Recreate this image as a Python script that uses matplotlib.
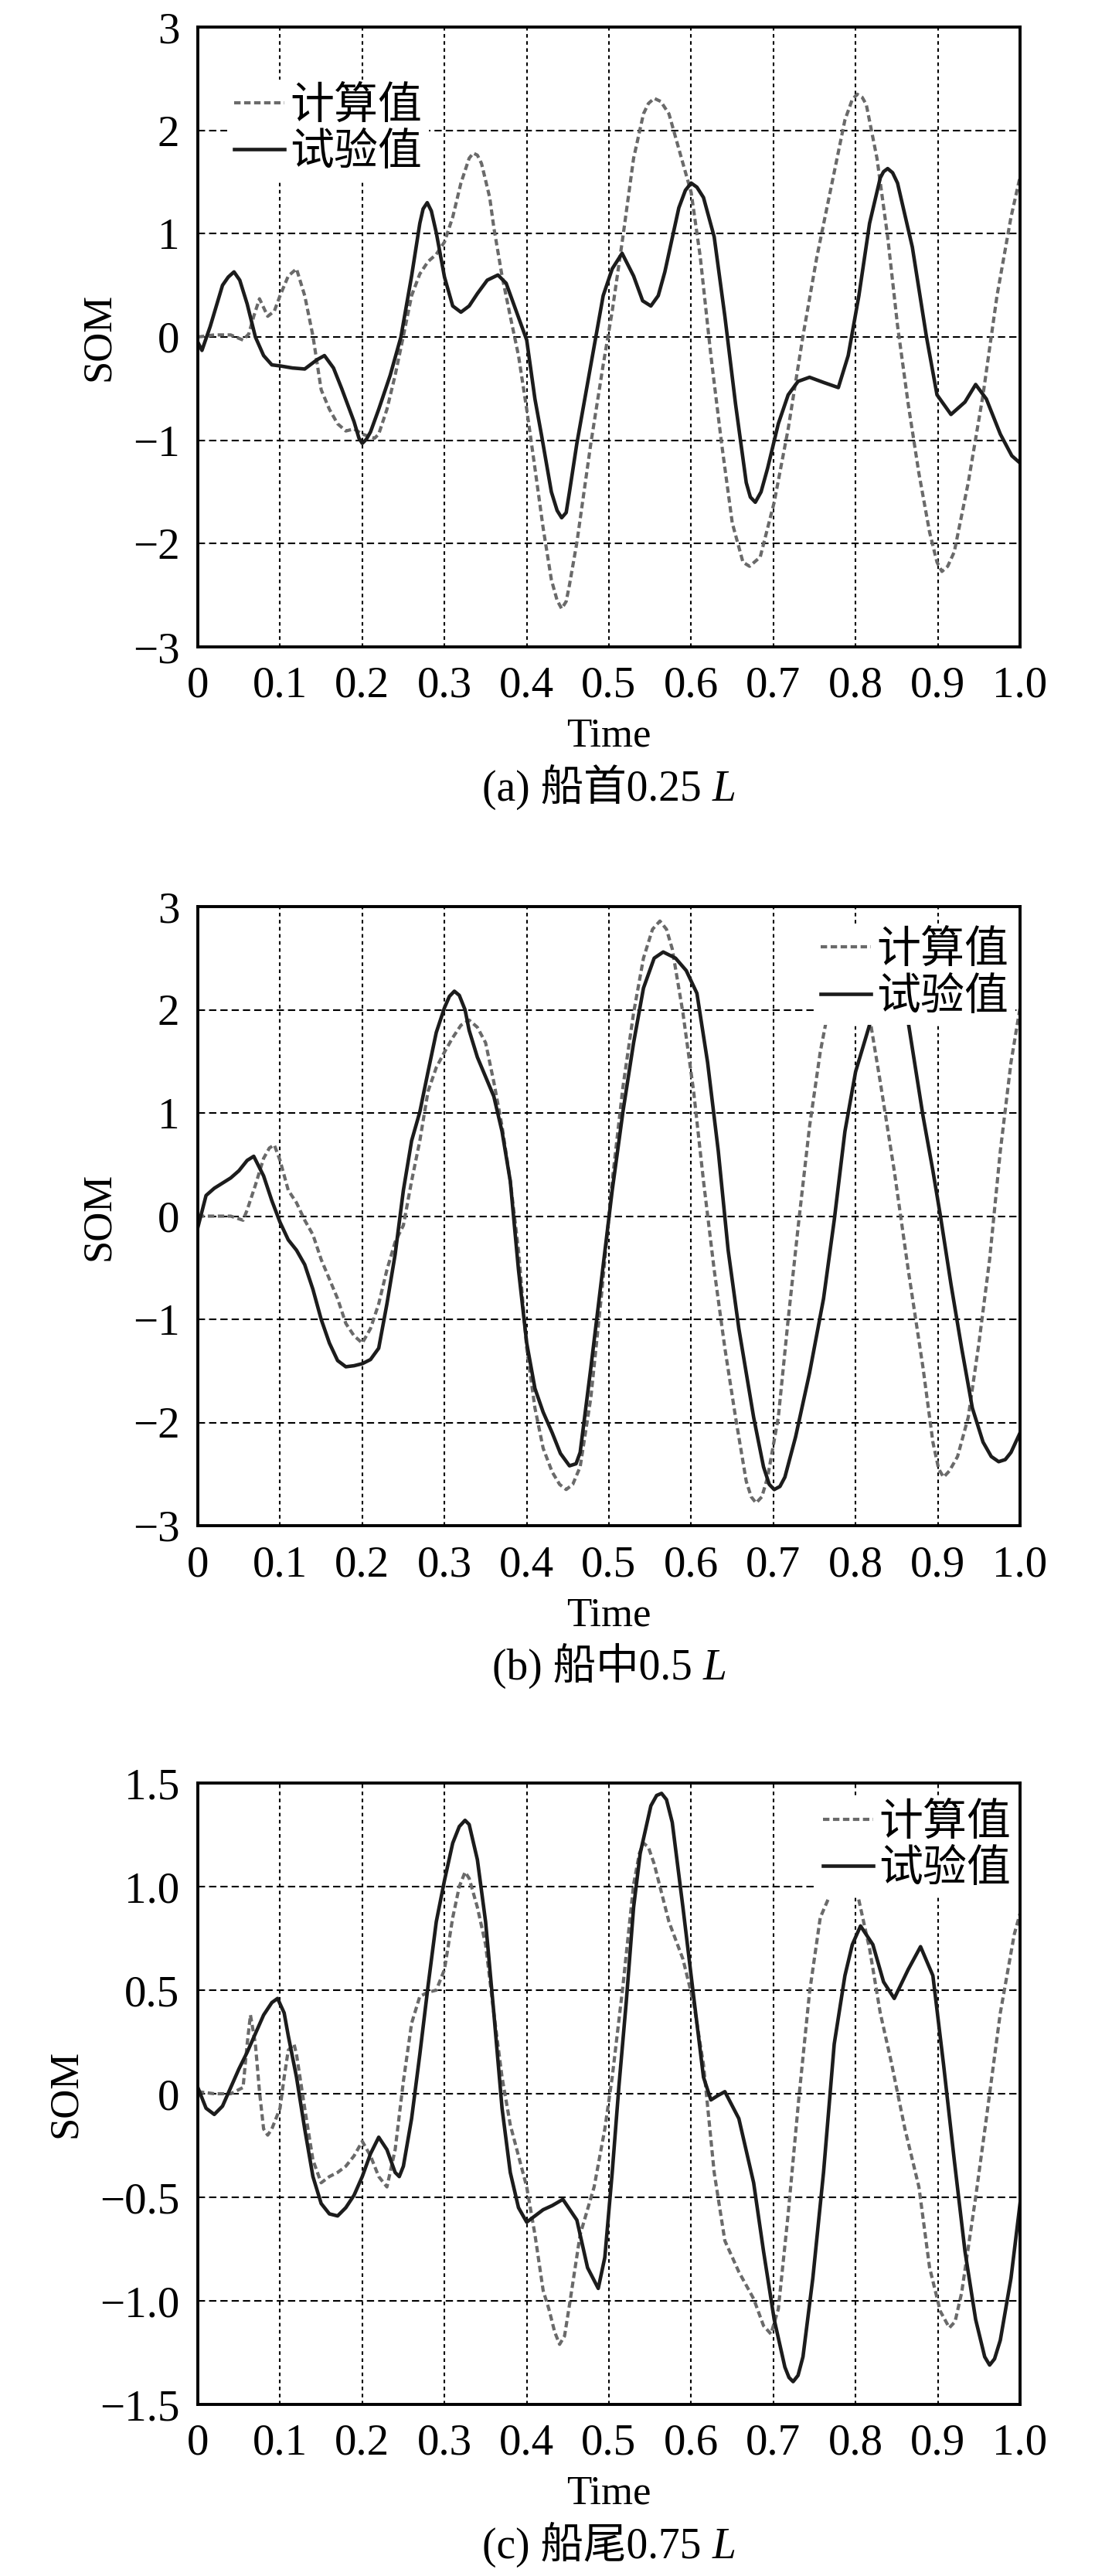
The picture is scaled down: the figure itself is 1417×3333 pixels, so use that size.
import matplotlib
matplotlib.use('Agg')
import matplotlib.pyplot as plt

plt.rcParams['font.family'] = ['Liberation Serif', 'Noto Sans CJK SC']
plt.rcParams['axes.unicode_minus'] = True

# (a) 船首0.25L
a_calc_t = [0, 0.02, 0.04, 0.055, 0.062, 0.068, 0.075, 0.085, 0.093, 0.1, 0.11, 0.12, 0.13, 0.14,
            0.15, 0.16, 0.17, 0.18, 0.19, 0.2, 0.215, 0.22, 0.23, 0.24, 0.25, 0.26, 0.27, 0.28,
            0.29, 0.3, 0.31, 0.32, 0.33, 0.335, 0.34, 0.345, 0.355, 0.36, 0.37, 0.38, 0.39, 0.4,
            0.41, 0.42, 0.43, 0.437, 0.4425, 0.448, 0.452, 0.461, 0.478, 0.493, 0.504, 0.517,
            0.53, 0.542, 0.548, 0.555, 0.563, 0.573, 0.59, 0.6, 0.611, 0.624, 0.637, 0.65, 0.663,
            0.671, 0.684, 0.701, 0.718, 0.736, 0.753, 0.77, 0.787, 0.796, 0.802, 0.808, 0.813,
            0.826, 0.839, 0.851, 0.864, 0.877, 0.89, 0.899, 0.905, 0.912, 0.92, 0.937, 0.955,
            0.972, 0.989, 1.0]
a_calc_v = [0.0, 0.02, 0.02, -0.03, 0.03, 0.2, 0.37, 0.2, 0.25, 0.4, 0.59, 0.66, 0.4, 0.01,
            -0.51, -0.7, -0.84, -0.91, -0.89, -0.94, -0.98, -0.94, -0.7, -0.37, 0.01, 0.4, 0.61, 0.73,
            0.8, 0.92, 1.16, 1.49, 1.73, 1.78, 1.76, 1.68, 1.35, 1.06, 0.59, 0.2, -0.18, -0.7,
            -1.27, -1.85, -2.35, -2.55, -2.63, -2.56, -2.4, -1.99, -1.03, -0.27, 0.25, 0.97,
            1.73, 2.16, 2.26, 2.31, 2.28, 2.16, 1.68, 1.4, 0.78, -0.18, -1.03, -1.8, -2.18,
            -2.22, -2.13, -1.6, -0.89, 0.01, 0.78, 1.44, 2.1, 2.3, 2.35, 2.32, 2.25,
            1.73, 0.97, 0.11, -0.65, -1.32, -1.89, -2.18, -2.27, -2.22, -2.08, -1.41, -0.56,
            0.4, 1.16, 1.55]
a_exp_t = [0, 0.005, 0.015, 0.03, 0.037, 0.044, 0.051, 0.06, 0.07, 0.08, 0.09, 0.1, 0.115, 0.13,
           0.145, 0.154, 0.165, 0.175, 0.19, 0.196, 0.2, 0.205, 0.21, 0.22, 0.234, 0.247, 0.26,
           0.27, 0.274, 0.279, 0.284, 0.29, 0.3, 0.31, 0.32, 0.33, 0.34, 0.352, 0.365, 0.375,
           0.385, 0.4, 0.41, 0.418, 0.43, 0.437, 0.4425, 0.448, 0.452, 0.461, 0.478, 0.493, 0.504,
           0.516, 0.53, 0.541, 0.551, 0.56, 0.568, 0.585, 0.593, 0.6, 0.607, 0.615, 0.628, 0.641,
           0.654, 0.667, 0.672, 0.678, 0.685, 0.693, 0.706, 0.718, 0.73, 0.744, 0.761, 0.779,
           0.791, 0.804, 0.817, 0.83, 0.834, 0.839, 0.845, 0.851, 0.869, 0.886, 0.899, 0.916,
           0.933, 0.946, 0.959, 0.976, 0.99, 1.0]
a_exp_v = [-0.05, -0.13, 0.1, 0.5, 0.58, 0.63, 0.55, 0.32, 0.0, -0.18, -0.27, -0.28, -0.3, -0.31,
           -0.22, -0.18, -0.3, -0.5, -0.82, -0.98, -1.03, -0.99, -0.92, -0.7, -0.37, 0.0, 0.59,
           1.1, 1.24, 1.3, 1.22, 1.01, 0.58, 0.3, 0.24, 0.3, 0.42, 0.55, 0.6, 0.52,
           0.3, -0.03, -0.6, -0.95, -1.5, -1.68, -1.75, -1.7, -1.5, -1.03, -0.27, 0.4, 0.66,
           0.81, 0.59, 0.35, 0.3, 0.4, 0.63, 1.25, 1.42, 1.49, 1.45, 1.35, 0.97, 0.2,
           -0.65, -1.41, -1.55, -1.6, -1.5, -1.27, -0.84, -0.56, -0.43, -0.39, -0.44, -0.49,
           -0.18, 0.4, 1.1, 1.54, 1.6, 1.63, 1.59, 1.49, 0.87, 0.01, -0.56, -0.75,
           -0.63, -0.46, -0.6, -0.94, -1.15, -1.22]

# (b) 船中0.5L
b_calc_t = [0, 0.02, 0.04, 0.055, 0.06, 0.07, 0.08, 0.087, 0.093, 0.1, 0.11, 0.12, 0.13, 0.14,
            0.15, 0.16, 0.17, 0.18, 0.19, 0.2, 0.21, 0.22, 0.23, 0.24, 0.25, 0.26, 0.27, 0.28,
            0.29, 0.3, 0.31, 0.32, 0.33, 0.34, 0.35, 0.36, 0.37, 0.38, 0.39, 0.4, 0.41, 0.42,
            0.431, 0.44, 0.448, 0.456, 0.465, 0.478, 0.491, 0.504, 0.517, 0.53, 0.542, 0.553,
            0.562, 0.57, 0.577, 0.59, 0.603, 0.615, 0.628, 0.641, 0.654, 0.667, 0.673, 0.679,
            0.686, 0.693, 0.706, 0.718, 0.731, 0.744, 0.757, 0.764, 0.78, 0.795, 0.808, 0.818,
            0.83, 0.847, 0.864, 0.882, 0.894, 0.901, 0.907, 0.914, 0.924, 0.937, 0.95, 0.963,
            0.976, 0.989, 1.0]
b_calc_v = [0.0, 0.0, 0.0, -0.04, 0.06, 0.3, 0.56, 0.66, 0.69, 0.54, 0.25, 0.13, -0.04, -0.18,
            -0.42, -0.61, -0.8, -1.04, -1.16, -1.23, -1.09, -0.85, -0.52, -0.25, -0.09, 0.34, 0.73, 1.21,
            1.44, 1.59, 1.73, 1.85, 1.9, 1.83, 1.68, 1.3, 0.87, 0.34, -0.33, -1.28, -1.86, -2.25,
            -2.48, -2.6, -2.65, -2.6, -2.43, -1.76, -0.76, 0.34, 1.25, 1.97, 2.5, 2.78,
            2.86, 2.78, 2.59, 1.97, 1.21, 0.34, -0.52, -1.28, -1.95, -2.57, -2.72, -2.78,
            -2.72, -2.53, -1.95, -1.0, -0.04, 0.87, 1.59, 1.88, 2.4, 2.5, 2.3, 1.88,
            1.3, 0.44, -0.52, -1.47, -2.19, -2.45, -2.53, -2.47, -2.33, -1.95, -1.23, -0.42,
            0.63, 1.49, 2.02]
b_exp_t = [0, 0.01, 0.02, 0.03, 0.04, 0.05, 0.06, 0.068, 0.08, 0.09, 0.1, 0.11, 0.12, 0.13,
           0.14, 0.15, 0.16, 0.17, 0.18, 0.19, 0.2, 0.21, 0.22, 0.23, 0.24, 0.25, 0.26, 0.27,
           0.28, 0.29, 0.3, 0.306, 0.312, 0.318, 0.325, 0.33, 0.34, 0.35, 0.36, 0.37, 0.38, 0.39,
           0.4, 0.41, 0.42, 0.431, 0.441, 0.452, 0.46, 0.465, 0.478, 0.491, 0.504, 0.517, 0.53,
           0.542, 0.555, 0.566, 0.581, 0.594, 0.607, 0.62, 0.633, 0.645, 0.658, 0.676, 0.688,
           0.695, 0.701, 0.708, 0.714, 0.727, 0.744, 0.761, 0.774, 0.787, 0.8, 0.818, 0.83, 0.843,
           0.855, 0.864, 0.882, 0.894, 0.903, 0.916, 0.929, 0.942, 0.955, 0.965, 0.974, 0.982,
           0.989, 1.0]
b_exp_v = [-0.11, 0.2, 0.27, 0.32, 0.37, 0.44, 0.54, 0.58, 0.39, 0.15, -0.06, -0.23, -0.33, -0.47,
           -0.71, -1.0, -1.23, -1.4, -1.46, -1.45, -1.43, -1.39, -1.28, -0.85, -0.37, 0.25, 0.73,
           1.01, 1.4, 1.78, 2.02, 2.13, 2.18, 2.14, 2.0, 1.8, 1.54, 1.35, 1.16, 0.82, 0.34,
           -0.52, -1.23, -1.67, -1.9, -2.1, -2.3, -2.42, -2.4, -2.29, -1.47, -0.61, 0.25, 1.01,
           1.68, 2.21, 2.5, 2.56, 2.5, 2.38, 2.16, 1.49, 0.63, -0.33, -1.09, -1.95, -2.43,
           -2.6, -2.65, -2.62, -2.53, -2.14, -1.52, -0.8, -0.04, 0.82, 1.4, 1.88, 2.25, 2.3,
           2.2, 1.88, 0.97, 0.44, 0.01, -0.66, -1.28, -1.86, -2.19, -2.33, -2.38, -2.36,
           -2.29, -2.1]

# (c) 船尾0.75L
c_calc_t = [0, 0.02, 0.04, 0.055, 0.06, 0.064, 0.07, 0.075, 0.08, 0.085, 0.09, 0.1, 0.105, 0.11,
            0.117, 0.12, 0.13, 0.14, 0.15, 0.16, 0.17, 0.18, 0.19, 0.2, 0.21, 0.22, 0.23, 0.24,
            0.25, 0.26, 0.27, 0.28, 0.29, 0.3, 0.31, 0.318, 0.325, 0.33, 0.34, 0.35, 0.36, 0.37,
            0.38, 0.39, 0.4, 0.41, 0.42, 0.427, 0.434, 0.44, 0.446, 0.452, 0.465, 0.482, 0.495,
            0.504, 0.517, 0.53, 0.537, 0.542, 0.548, 0.555, 0.573, 0.59, 0.603, 0.615, 0.628,
            0.641, 0.658, 0.676, 0.688, 0.697, 0.706, 0.718, 0.731, 0.744, 0.757, 0.77, 0.785,
            0.802, 0.817, 0.83, 0.843, 0.86, 0.877, 0.89, 0.903, 0.914, 0.921, 0.929, 0.946,
            0.959, 0.976, 0.993, 1.0]
c_calc_v = [0.01, 0.0, 0.0, 0.03, 0.24, 0.38, 0.24, 0.01, -0.17, -0.2, -0.17, -0.07, 0.08, 0.21,
            0.24, 0.19, -0.07, -0.32, -0.43, -0.4, -0.38, -0.35, -0.3, -0.23, -0.3, -0.4, -0.45, -0.27,
            0.06, 0.34, 0.47, 0.49, 0.5, 0.6, 0.85, 1.0, 1.07, 1.04, 0.9, 0.72, 0.39, 0.08,
            -0.15, -0.3, -0.45, -0.68, -0.95, -1.04, -1.15, -1.21, -1.17, -1.02, -0.68, -0.45, -0.17,
            0.08, 0.52, 1.01, 1.16, 1.21, 1.19, 1.11, 0.83, 0.65, 0.44, 0.14, -0.38,
            -0.71, -0.86, -0.99, -1.12, -1.16, -1.04, -0.58, -0.02, 0.49, 0.85, 0.97, 1.0,
            0.97, 0.7, 0.39, 0.16, -0.17, -0.45, -0.84, -1.05, -1.13, -1.1, -0.96, -0.5,
            -0.12, 0.39, 0.77, 0.87]
c_exp_t = [0, 0.01, 0.02, 0.03, 0.04, 0.05, 0.06, 0.07, 0.08, 0.09, 0.097, 0.105, 0.11, 0.12,
           0.13, 0.14, 0.15, 0.16, 0.17, 0.18, 0.19, 0.2, 0.21, 0.22, 0.23, 0.24, 0.245, 0.25,
           0.26, 0.27, 0.28, 0.29, 0.3, 0.31, 0.318, 0.325, 0.33, 0.34, 0.35, 0.36, 0.37, 0.38,
           0.39, 0.4, 0.41, 0.42, 0.431, 0.444, 0.461, 0.474, 0.487, 0.495, 0.504, 0.512, 0.521,
           0.53, 0.538, 0.551, 0.558, 0.564, 0.57, 0.577, 0.59, 0.603, 0.615, 0.624, 0.632, 0.641,
           0.658, 0.676, 0.688, 0.701, 0.714, 0.719, 0.724, 0.73, 0.736, 0.748, 0.761, 0.774,
           0.787, 0.796, 0.806, 0.821, 0.834, 0.847, 0.864, 0.879, 0.894, 0.907, 0.92, 0.933,
           0.946, 0.957, 0.963, 0.969, 0.976, 0.989, 1.0]
c_exp_v = [0.03, -0.07, -0.1, -0.06, 0.03, 0.12, 0.2, 0.29, 0.38, 0.44, 0.46, 0.39, 0.28, 0.08,
           -0.17, -0.4, -0.53, -0.58, -0.59, -0.55, -0.49, -0.4, -0.29, -0.21, -0.27, -0.38, -0.4,
           -0.35, -0.12, 0.19, 0.52, 0.83, 1.03, 1.21, 1.29, 1.32, 1.3, 1.13, 0.83, 0.39, -0.07,
           -0.38, -0.55, -0.62, -0.59, -0.56, -0.54, -0.51, -0.61, -0.84, -0.94, -0.79, -0.38,
           0.03, 0.44, 0.9, 1.16, 1.39, 1.44, 1.45, 1.42, 1.31, 0.9, 0.47, 0.08, -0.03, -0.01,
           0.01, -0.12, -0.43, -0.76, -1.09, -1.32, -1.37, -1.39, -1.36, -1.27, -0.89, -0.38,
           0.24, 0.57, 0.72, 0.81, 0.72, 0.54, 0.46, 0.6, 0.71, 0.57, 0.14, -0.32, -0.76,
           -1.09, -1.27, -1.31, -1.28, -1.19, -0.89, -0.53]

x_ticks = [0, 0.1, 0.2, 0.3, 0.4, 0.5, 0.6, 0.7, 0.8, 0.9, 1.0]
x_labels = ['0', '0.1', '0.2', '0.3', '0.4', '0.5', '0.6', '0.7', '0.8', '0.9', '1.0']
y_ticks_ab = [-3, -2, -1, 0, 1, 2, 3]
y_labels_ab = ['\u22123', '\u22122', '\u22121', '0', '1', '2', '3']
y_ticks_c = [-1.5, -1.0, -0.5, 0, 0.5, 1.0, 1.5]
y_labels_c = ['\u22121.5', '\u22121.0', '\u22120.5', '0', '0.5', '1.0', '1.5']
captions = ['(a) 船首0.25 ', '(b) 船中0.5 ', '(c) 船尾0.75 ']

W, H = 1417, 3333
fig = plt.figure(figsize=(W / 100, H / 100), dpi=100)

# pixel rows of each axes (top, bottom) and legend anchor
panels = [
    dict(top=35, bottom=837, calc=(a_calc_t, a_calc_v), exp=(a_exp_t, a_exp_v),
         yt=y_ticks_ab, yl=y_labels_ab, ylim=(-3, 3), loc='upper left', anchor=(0.036, 0.915)),
    dict(top=1173, bottom=1974, calc=(b_calc_t, b_calc_v), exp=(b_exp_t, b_exp_v),
         yt=y_ticks_ab, yl=y_labels_ab, ylim=(-3, 3), loc='upper right', anchor=(0.994, 0.972)),
    dict(top=2307, bottom=3111, calc=(c_calc_t, c_calc_v), exp=(c_exp_t, c_exp_v),
         yt=y_ticks_c, yl=y_labels_c, ylim=(-1.5, 1.5), loc='upper right', anchor=(0.997, 0.979)),
]

left, right = 256, 1320
fs = 41
caps = []

for i, p in enumerate(panels):
    ax = fig.add_axes([left / W, 1 - p['bottom'] / H, (right - left) / W, (p['bottom'] - p['top']) / H])
    ax.plot(p['calc'][0], p['calc'][1], color='#6a6a6a', lw=3.0, dashes=(2.0, 1.1), label='计算值')
    ax.plot(p['exp'][0], p['exp'][1], color='#1c1c1c', lw=3.3, label='试验值')
    ax.set_xlim(0, 1)
    ax.set_ylim(*p['ylim'])
    ax.set_xticks(x_ticks)
    ax.set_xticklabels(x_labels)
    ax.set_yticks(p['yt'])
    ax.set_yticklabels(p['yl'])
    ax.tick_params(length=0, labelsize=fs)
    ax.tick_params(axis='x', pad=18)
    ax.tick_params(axis='y', pad=17)
    ax.set_axisbelow(True)
    ax.xaxis.grid(True, color='k', lw=1.5, linestyle=(0, (2.2, 2.2)))
    ax.yaxis.grid(True, color='k', lw=1.5, linestyle=(0, (4.5, 2.5)))
    for s in ax.spines.values():
        s.set_linewidth(2.8)
    h = p['bottom'] - p['top']
    ax.set_xlabel('Time', fontsize=38, va='baseline')
    ax.xaxis.set_label_coords(0.5, -129 / h)
    ax.set_ylabel('SOM', fontsize=38, labelpad=14)
    ax.legend(loc=p['loc'], bbox_to_anchor=p['anchor'], fontsize=fs, frameon=True,
              fancybox=False, edgecolor='none', facecolor='white', framealpha=1,
              handlelength=1.15, handletextpad=0.12, labelspacing=0.13, borderpad=0.15,
              borderaxespad=0)
    base_y = 1 - (p['bottom'] + 199) / H
    cap = fig.text(773 / W, base_y, captions[i], fontsize=40, ha='center', va='baseline')
    caps.append((cap, base_y))

# italic L right after each caption
renderer = fig.canvas.get_renderer()
for cap, base_y in caps:
    bb = cap.get_window_extent(renderer)
    fig.text(bb.x1 / W, base_y, 'L', fontsize=40, style='italic',
             family='Liberation Serif', ha='left', va='baseline')

fig.savefig('out.png', dpi=100)
